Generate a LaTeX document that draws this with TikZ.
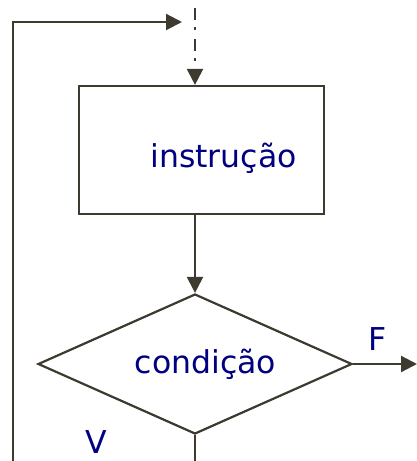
\documentclass[tikz,border=0pt]{standalone}
\usepackage{fontspec}
\setmainfont{DejaVu Sans}
\usetikzlibrary{
    arrows.meta,
    shapes.geometric,
    positioning
}
\definecolor{linegray}{RGB}{62,58,48}
\definecolor{textnavy}{RGB}{0,0,128}
\tikzstyle{instrbox} = [
    rectangle,
    draw=linegray,
    line width=1.1pt,
    minimum width=122.5pt,
    minimum height=64pt,
    inner sep=0pt
]
\tikzstyle{testbox} = [
    diamond,
    draw=linegray,
    line width=1.1pt,
    minimum width=157pt,
    minimum height=70pt,
    inner sep=0pt
]
\tikzstyle{lbl} = [
    text=textnavy,
    font=\fontsize{15.75}{19}\selectfont,
    inner sep=0pt
]
\tikzstyle{flow} = [
    -{Triangle[length=8pt,width=8pt]},
    line width=1.1pt,
    draw=linegray
]
\tikzstyle{plain} = [
    line width=1.1pt,
    draw=linegray
]

\begin{document}
\begin{tikzpicture}[x=0.5pt, y=-0.5pt]
        \useasboundingbox (0,0) rectangle (417,461);
        % blocks
        \node[instrbox] (instr) at (201.5,150) {};
        \node[lbl] (instrtxt) at (223.5,158) {instrução};
        \node[testbox] (cond) at (195,364) {};
        \node[lbl] (condtxt) at (205.5,364) {condição};

        % labels of the exits
        \node[lbl] (false) at (378,339) {F};
        \node[lbl] (true) at (96,442) {V};

        % loop back
        \coordinate (entry) at (195,8);
        \coordinate (loopend) at (182,22);
        \coordinate (exitV) at (195,461);
        \coordinate (loopfoot) at (13,461);
        \coordinate (exitF) at (417,364);

        \draw[flow, dash pattern=on 6pt off 3.5pt on 1.5pt off 4.5pt] (entry) -- (entry |- instr.north);
        \draw[flow] (entry |- instr.south) -- (cond.north);
        \draw[flow] (cond.east) -- (exitF);
        \draw[plain] (cond.south) -- (exitV);
        \draw[flow] (loopfoot) |- (loopend);
    \end{tikzpicture}
\end{document}
